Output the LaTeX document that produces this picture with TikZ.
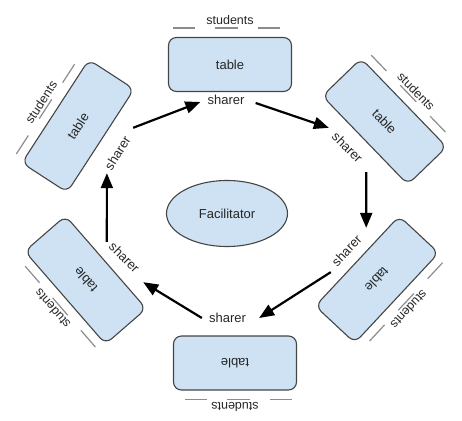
\documentclass[tikz,border=0pt]{standalone}
\usepackage{fontspec}
\setmainfont{Liberation Sans}
\usetikzlibrary{arrows.meta,shapes.geometric}
\definecolor{tblfill}{HTML}{CFE2F3}
\definecolor{tbldraw}{HTML}{454545}
\definecolor{segcol}{HTML}{8C8C8C}
\begin{document}
\begin{tikzpicture}[x=1pt,y=-1pt,
  tbl/.style={draw=tbldraw, line width=1.1pt, fill=tblfill, rounded corners=8pt,
    minimum width=123pt, minimum height=54pt, inner sep=0pt,
    font=\fontsize{13}{15}\selectfont, text=black!85},
  stu/.style={font=\fontsize{12.5}{15}\selectfont, inner sep=0pt, text=black!85},
  seg/.style={draw=segcol, line width=1.2pt},
  shr/.style={font=\fontsize{13}{15}\selectfont, inner sep=0pt, text=black!85},
  arr/.style={line width=2.2pt, -{Triangle[length=15pt,width=12pt]}},
  fac/.style={ellipse, draw=tbldraw, fill=tblfill, line width=1.1pt,
    minimum width=121pt, minimum height=66pt, inner sep=0pt,
    font=\fontsize{13}{15}\selectfont, text=black!85}
]
\useasboundingbox (0,0) rectangle (462,420);

% stations: table + students
\begin{scope}[shift={(230,64.5)}, rotate=0, transform shape]
  \node[tbl] (tT) at (0,0) {table};
  \node[stu] (uT) at (0,-44) {students};
  \draw[seg] (-57,-36.5) -- (-35,-36.5) (-15,-36.5) -- (8,-36.5) (28,-36.5) -- (50,-36.5);
\end{scope}
\begin{scope}[shift={(384.5,121.5)}, rotate=-46, transform shape]
  \node[tbl] (tTR) at (0,0) {table};
  \node[stu] (uTR) at (0,-44) {students};
  \draw[seg] (-57,-36.5) -- (-35,-36.5) (-15,-36.5) -- (8,-36.5) (28,-36.5) -- (50,-36.5);
\end{scope}
\begin{scope}[shift={(377,279.5)}, rotate=-133, transform shape]
  \node[tbl] (tRB) at (0,0) {table};
  \node[stu] (uRB) at (0,-44) {students};
  \draw[seg] (-57,-36.5) -- (-35,-36.5) (-15,-36.5) -- (8,-36.5) (28,-36.5) -- (50,-36.5);
\end{scope}
\begin{scope}[shift={(235,363)}, rotate=180, transform shape]
  \node[tbl] (tB) at (0,0) {table};
  \node[stu] (uB) at (0,-44) {students};
  \draw[seg] (-57,-36.5) -- (-35,-36.5) (-15,-36.5) -- (8,-36.5) (28,-36.5) -- (50,-36.5);
\end{scope}
\begin{scope}[shift={(85.5,280)}, rotate=131, transform shape]
  \node[tbl] (tBL) at (0,0) {table};
  \node[stu] (uBL) at (0,-44) {students};
  \draw[seg] (-57,-36.5) -- (-35,-36.5) (-15,-36.5) -- (8,-36.5) (28,-36.5) -- (50,-36.5);
\end{scope}
\begin{scope}[shift={(78,126)}, rotate=57, transform shape]
  \node[tbl] (tTL) at (0,0) {table};
  \node[stu] (uTL) at (0,-44) {students};
  \draw[seg] (-57,-36.5) -- (-35,-36.5) (-15,-36.5) -- (8,-36.5) (28,-36.5) -- (50,-36.5);
\end{scope}

% facilitator
\node[fac] (f) at (227,213.5) {Facilitator};

% sharers
\node[shr] (sT) at (226,100) {sharer};
\node[shr, rotate=-45] (sTR) at (347.5,147.5) {sharer};
\node[shr, rotate=47] (sRB) at (346.5,250.5) {sharer};
\node[shr] (sB) at (227.5,318) {sharer};
\node[shr, rotate=-45] (sBL) at (124.5,257.5) {sharer};
\node[shr, rotate=58] (sTL) at (117.5,153) {sharer};

% arrows
\draw[arr] ([shift={(5.75,-9.4)}]sTL.east) -- ([shift={(-7,2)}]sT.west);
\draw[arr] ([shift={(11,3)}]sT.east) -- ([shift={(-5.5,-6.5)}]sTR.west);
\draw[arr] ([shift={(5.5,11.5)}]sTR.east) -- ([shift={(7,-9)}]sRB.east);
\draw[arr] ([shift={(-3,8)}]sRB.west) -- ([shift={(13,0)}]sB.east);
\draw[arr] ([shift={(-7,0)}]sB.west) -- ([shift={(5.5,11.5)}]sBL.east);
\draw[arr] ([shift={(-4.5,-2.5)}]sBL.west) -- ([shift={(-0.75,4.4)}]sTL.west);
\end{tikzpicture}
\end{document}
